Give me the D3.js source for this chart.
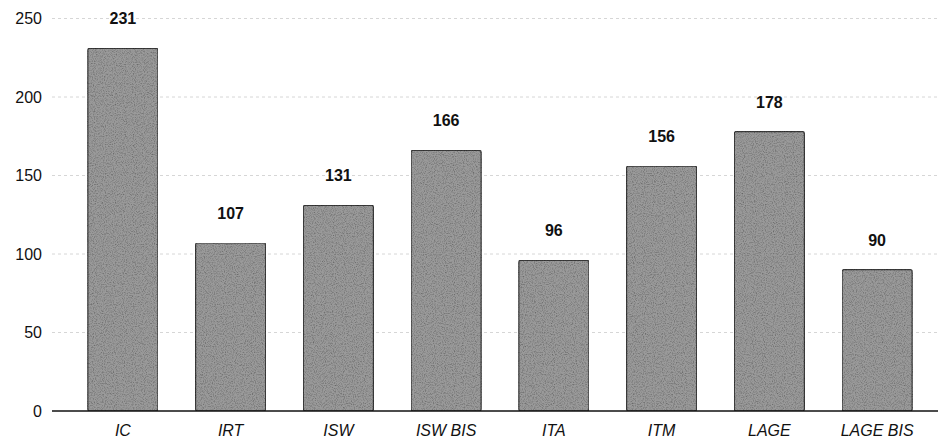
<!DOCTYPE html>
<html><head><meta charset="utf-8">
<script src="https://cdn.jsdelivr.net/npm/d3@7"></script>
<style>body{margin:0;background:#fff;}svg{display:block;font-family:"Liberation Sans",Arial,sans-serif;}</style>
</head><body>
<svg id="c" width="943" height="442"></svg>
<script>
const categories = ["IC","IRT","ISW","ISW BIS","ITA","ITM","LAGE","LAGE BIS"];
const values = [231,107,131,166,96,156,178,90];
const yTicks = [0,50,100,150,200,250];

const svg = d3.select("#c");
const defs = svg.append("defs");
const f = defs.append("filter").attr("id","grain").attr("x","0").attr("y","0").attr("width","1").attr("height","1");
f.append("feTurbulence").attr("type","fractalNoise").attr("baseFrequency","0.9").attr("numOctaves","2").attr("seed","3").attr("result","n");
f.append("feColorMatrix").attr("in","n").attr("type","matrix")
 .attr("values","0 0 0 0 0  0 0 0 0 0  0 0 0 0 0  0 0 0 -1.2 0.7").attr("result","a");
f.append("feComposite").attr("in","a").attr("in2","SourceGraphic").attr("operator","in").attr("result","b");
f.append("feBlend").attr("in","SourceGraphic").attr("in2","b").attr("mode","multiply");

const y = d3.scaleLinear().domain([0,250]).range([411,18.5]);
const x = d3.scaleBand().domain(categories).range([69,931]).paddingInner(0.35).paddingOuter(0.175);

// gridlines
svg.append("g").selectAll("line").data(yTicks.filter(d=>d>0)).join("line")
  .attr("x1",52).attr("x2",938).attr("y1",d=>y(d)).attr("y2",d=>y(d))
  .attr("stroke","#d6d6d6").attr("stroke-width",1).attr("stroke-dasharray","3,3");

// y axis labels
const yAxis = d3.axisLeft(y).tickValues(yTicks).tickSize(0).tickPadding(0);
const gy = svg.append("g").attr("transform","translate(42,0)").call(yAxis);
gy.select(".domain").remove();
gy.selectAll("text").attr("font-size",16).attr("fill","#111").attr("font-family","'Liberation Sans',Arial,sans-serif");

// bars
svg.append("g").selectAll("rect").data(values).join("rect")
  .attr("x",(d,i)=>x(categories[i])).attr("width",x.bandwidth())
  .attr("y",d=>y(d)).attr("height",d=>y(0)-y(d))
  .attr("rx",2)
  .attr("fill","#9a9a9a").attr("stroke","#3a3a3a").attr("stroke-width",1.2)
  .attr("filter","url(#grain)");

// baseline
svg.append("line").attr("x1",52).attr("x2",938).attr("y1",y(0)).attr("y2",y(0))
  .attr("stroke","#111").attr("stroke-width",1.5);

// value labels
svg.append("g").selectAll("text").data(values).join("text")
  .attr("x",(d,i)=>x(categories[i])+x.bandwidth()/2)
  .attr("y",d=>y(d)-24)
  .attr("text-anchor","middle").attr("font-size",16).attr("font-weight","bold").attr("fill","#111")
  .text(d=>d);

// x axis labels
const xAxis = d3.axisBottom(x).tickSize(0).tickPadding(0);
const gx = svg.append("g").attr("transform","translate(0,425)").call(xAxis);
gx.select(".domain").remove();
gx.selectAll("text").attr("font-size",16).attr("font-style","italic").attr("fill","#111").attr("font-family","'Liberation Sans',Arial,sans-serif");
</script>
</body></html>
